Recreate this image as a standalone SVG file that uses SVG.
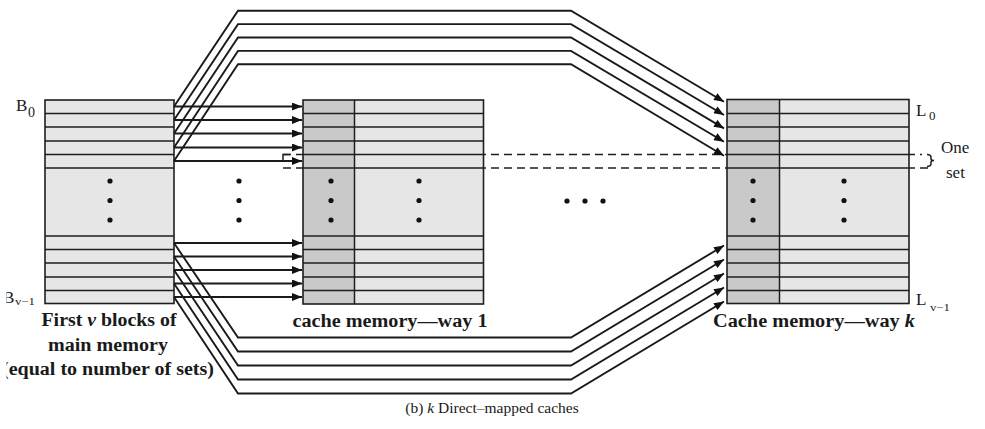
<svg xmlns="http://www.w3.org/2000/svg" width="985" height="429" viewBox="0 0 985 429">
  <style>
    .blk { stroke: #1e1e1e; stroke-width: 1.6; }
    .light { fill: #e6e6e6; }
    .tag { fill: #c9c9c9; }
    .row { stroke: #1e1e1e; stroke-width: 1.5; fill: none; }
    .wire { stroke: #1a1a1a; stroke-width: 1.9; fill: none; stroke-linejoin: miter; }
    .dash { stroke: #1e1e1e; stroke-width: 1.5; stroke-dasharray: 8 5; fill: none; }
    .dot { fill: #111; }
    .lbl { font-family: "Liberation Serif", "Times New Roman", serif; font-weight: bold; font-size: 18.5px; fill: #1a1a1a; }
    .sym { font-family: "Liberation Serif", "Times New Roman", serif; fill: #1a1a1a; }
  </style>
  <defs>
    <marker id="ah" viewBox="0 0 10 8" refX="10" refY="4" markerWidth="11" markerHeight="8" markerUnits="userSpaceOnUse" orient="auto">
      <path d="M0,0 L10,4 L0,8 z" fill="#111"/>
    </marker>
    <clipPath id="leftEdge">
      <rect x="6.5" y="0" width="300" height="429"/>
    </clipPath>
  </defs>
  <rect width="985" height="429" fill="#ffffff"/>

  <!-- one-set boundary (dashed), drawn beneath the blocks -->
  <g id="set-marker">
    <path class="dash" d="M283,154.5 H922"/>
    <path class="dash" d="M283,168 H933"/>
    <path class="row" d="M290,154.5 H283 V161"/>
    <path class="row" d="M927,154.5 q4,0 4,3 v1.5 q0,1.5 3,1.5 q-3,0 -3,1.5 v1.5 q0,3 -4,3"/>
    <text class="sym" x="941" y="153" font-size="17">One</text>
    <text class="sym" x="946" y="178" font-size="17">set</text>
  </g>

  <!-- main memory: first v blocks -->
  <g id="main-memory">
    <rect class="blk light" x="45" y="100" width="129" height="203.5"/>
    <path class="row" d="M45,113.5 H174 M45,127 H174 M45,141 H174 M45,154.5 H174 M45,168 H174 M45,236 H174 M45,249.5 H174 M45,263 H174 M45,277 H174 M45,290.5 H174"/>
    <circle class="dot" cx="110" cy="181" r="2.6"/>
    <circle class="dot" cx="110" cy="200.5" r="2.6"/>
    <circle class="dot" cx="110" cy="220" r="2.6"/>
    <text class="sym" x="16" y="111" font-size="17">B</text>
    <text class="sym" x="28" y="116.5" font-size="14">0</text>
    <g clip-path="url(#leftEdge)">
      <text class="sym" x="3" y="303" font-size="17">B</text>
      <text class="sym" x="15" y="305" font-size="10" textLength="20" lengthAdjust="spacingAndGlyphs">v−1</text>
      <text class="lbl" x="108" y="375" text-anchor="middle" textLength="212" lengthAdjust="spacingAndGlyphs">(equal to number of sets)</text>
    </g>
    <text class="lbl" x="109" y="326" text-anchor="middle" textLength="135" lengthAdjust="spacingAndGlyphs">First <tspan font-style="italic">v</tspan> blocks of</text>
    <text class="lbl" x="108" y="351" text-anchor="middle" textLength="120" lengthAdjust="spacingAndGlyphs">main memory</text>
  </g>

  <!-- dots between memory and way 1, and between way 1 and way k -->
  <g id="gap-dots">
    <circle class="dot" cx="239" cy="181" r="2.6"/>
    <circle class="dot" cx="239" cy="200.5" r="2.6"/>
    <circle class="dot" cx="239" cy="220" r="2.6"/>
    <circle class="dot" cx="567" cy="201" r="2.6"/>
    <circle class="dot" cx="585" cy="201" r="2.6"/>
    <circle class="dot" cx="603" cy="201" r="2.6"/>
  </g>

  <!-- cache way 1 -->
  <g id="cache-way-1">
    <rect class="tag" x="303" y="100" width="51.5" height="204"/>
    <rect class="light" x="354.5" y="100" width="129" height="204"/>
    <rect class="blk" x="303" y="100" width="180.5" height="204" fill="none"/>
    <path class="row" d="M354.5,100 V304"/>
    <path class="row" d="M303,113.5 H483.5 M303,127 H483.5 M303,141 H483.5 M303,154.5 H483.5 M303,168 H483.5 M303,236 H483.5 M303,249.5 H483.5 M303,263 H483.5 M303,277 H483.5 M303,290.5 H483.5"/>
    <circle class="dot" cx="331" cy="181" r="2.6"/>
    <circle class="dot" cx="331" cy="200.5" r="2.6"/>
    <circle class="dot" cx="331" cy="220" r="2.6"/>
    <circle class="dot" cx="419" cy="181" r="2.6"/>
    <circle class="dot" cx="419" cy="200.5" r="2.6"/>
    <circle class="dot" cx="419" cy="220" r="2.6"/>
    <text class="lbl" x="390" y="327" text-anchor="middle" textLength="195" lengthAdjust="spacingAndGlyphs">cache memory—way 1</text>
  </g>

  <!-- cache way k -->
  <g id="cache-way-k">
    <rect class="tag" x="727" y="99.5" width="52.5" height="204"/>
    <rect class="light" x="779.5" y="99.5" width="129.5" height="204"/>
    <rect class="blk" x="727" y="99.5" width="182" height="204" fill="none"/>
    <path class="row" d="M779.5,99.5 V303.5"/>
    <path class="row" d="M727,113.5 H909 M727,127 H909 M727,141 H909 M727,154.5 H909 M727,168 H909 M727,236 H909 M727,249.5 H909 M727,263 H909 M727,277 H909 M727,290.5 H909"/>
    <circle class="dot" cx="753" cy="181" r="2.6"/>
    <circle class="dot" cx="753" cy="200.5" r="2.6"/>
    <circle class="dot" cx="753" cy="220" r="2.6"/>
    <circle class="dot" cx="844" cy="181" r="2.6"/>
    <circle class="dot" cx="844" cy="200.5" r="2.6"/>
    <circle class="dot" cx="844" cy="220" r="2.6"/>
    <text class="sym" x="916" y="116" font-size="17">L</text>
    <text class="sym" x="929" y="119.5" font-size="13">0</text>
    <text class="sym" x="916" y="305" font-size="17">L</text>
    <text class="sym" x="930" y="311" font-size="10" textLength="20" lengthAdjust="spacingAndGlyphs">v−1</text>
    <text class="lbl" x="814" y="327" text-anchor="middle" textLength="202" lengthAdjust="spacingAndGlyphs">Cache memory—way <tspan font-style="italic">k</tspan></text>
  </g>

  <!-- mapping connectors -->
  <g id="connectors">
    <!-- direct to way 1 -->
    <path class="wire" d="M174,106.5 H302" marker-end="url(#ah)"/>
    <path class="wire" d="M174,120 H302" marker-end="url(#ah)"/>
    <path class="wire" d="M174,133.5 H302" marker-end="url(#ah)"/>
    <path class="wire" d="M174,147.5 H302" marker-end="url(#ah)"/>
    <path class="wire" d="M174,161 H302" marker-end="url(#ah)"/>
    <path class="wire" d="M174,243 H302" marker-end="url(#ah)"/>
    <path class="wire" d="M174,256.5 H302" marker-end="url(#ah)"/>
    <path class="wire" d="M174,270 H302" marker-end="url(#ah)"/>
    <path class="wire" d="M174,283.5 H302" marker-end="url(#ah)"/>
    <path class="wire" d="M174,297 H302" marker-end="url(#ah)"/>
    <!-- over the top to way k -->
    <path class="wire" d="M174,106.5 L238,10.7 H571 L724,101.7" marker-end="url(#ah)"/>
    <path class="wire" d="M174,120 L238,24.1 H571 L724,115" marker-end="url(#ah)"/>
    <path class="wire" d="M174,133.5 L238,37.5 H571 L724,128.4" marker-end="url(#ah)"/>
    <path class="wire" d="M174,147.5 L238,50.9 H571 L724,141.8" marker-end="url(#ah)"/>
    <path class="wire" d="M174,161 L238,64.3 H571 L724,155.8" marker-end="url(#ah)"/>
    <!-- underneath to way k -->
    <path class="wire" d="M174,243 L238,337.5 H571 L724,245.5" marker-end="url(#ah)"/>
    <path class="wire" d="M174,256.5 L238,351.5 H571 L724,259.5" marker-end="url(#ah)"/>
    <path class="wire" d="M174,270 L238,365.5 H571 L724,273.5" marker-end="url(#ah)"/>
    <path class="wire" d="M174,283.5 L238,379.5 H571 L724,287.5" marker-end="url(#ah)"/>
    <path class="wire" d="M174,297 L238,393.5 H571 L724,301.5" marker-end="url(#ah)"/>
  </g>

  <text class="sym" x="492" y="413" font-size="15.5" text-anchor="middle">(b) <tspan font-style="italic">k</tspan> Direct–mapped caches</text>
</svg>
